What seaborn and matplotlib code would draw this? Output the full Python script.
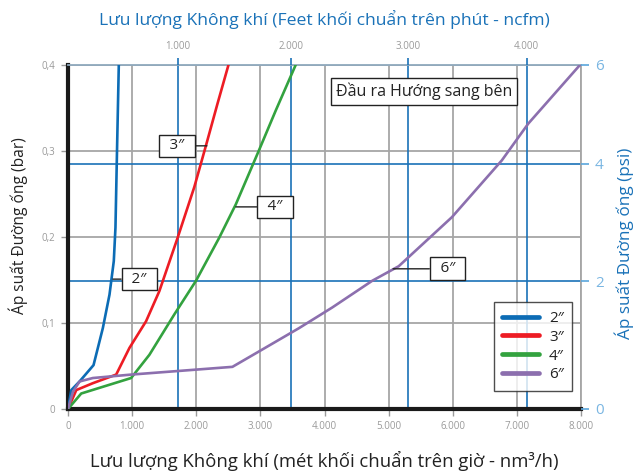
import numpy as np
import pandas as pd
import matplotlib
matplotlib.use("Agg")
import matplotlib.pyplot as plt
import seaborn as sns

# values (x: nm3/h, y: bar)
flow_2 = [0, 51, 180, 398, 543, 647, 714, 740, 761, 792]
bar_2 = [0, 0.022, 0.032, 0.051, 0.094, 0.133, 0.172, 0.211, 0.289, 0.4]

flow_3 = [0, 129, 387, 751, 958, 1217, 1424, 1709, 1969, 2150, 2331, 2502]
bar_3 = [0, 0.022, 0.030, 0.040, 0.071, 0.102, 0.137, 0.199, 0.258, 0.306, 0.355, 0.4]

flow_4 = [0, 206, 984, 1269, 1658, 1995, 2357, 2617, 2979, 3239, 3550]
bar_4 = [0, 0.018, 0.036, 0.063, 0.110, 0.149, 0.199, 0.238, 0.301, 0.347, 0.4]

flow_6 = [0, 77, 180, 387, 984, 2564, 2980, 3602, 4120, 4742, 5157, 5986, 6764, 7179, 7983]
bar_6 = [0, 0.020, 0.032, 0.036, 0.040, 0.049, 0.067, 0.094, 0.118, 0.149, 0.166, 0.223, 0.289, 0.332, 0.4]

sizes = ["2″", "3″", "4″", "6″"]
colors = ["#0c6cb5", "#ed1c24", "#33a23f", "#8c6fae"]

# secondary scales (ncfm on top, psi on right) placed on the primary axes
ncfm_pos = [1710, 3480, 5300, 7150]
ncfm_labels = ["1.000", "2.000", "3.000", "4.000"]
psi_pos = [0, 0.1485, 0.285, 0.4]
psi_labels = ["0", "2", "4", "6"]

x_ticks = [0, 1000, 2000, 3000, 4000, 5000, 6000, 7000, 8000]
x_labels = ["0", "1.000", "2.000", "3.000", "4.000", "5.000", "6.000", "7.000", "8.000"]
y_ticks = [0, 0.1, 0.2, 0.3, 0.4]
y_labels = ["0", "0,1", "0,2", "0,3", "0,4"]

# label boxes: (text, box x, box y, curve x)
tags = [("2″", 1113, 0.151, 699), ("3″", 1700, 0.306, 2166),
        ("4″", 3229, 0.235, 2617), ("6″", 5919, 0.163, 5069)]

sns.set_style("white")
plt.rcParams['font.family'] = ['Open Sans', 'DejaVu Sans']

df = pd.concat([
    pd.DataFrame({"flow": f, "bar": b, "size": s})
    for f, b, s in zip([flow_2, flow_3, flow_4, flow_6], [bar_2, bar_3, bar_4, bar_6], sizes)
])

fig = plt.figure(figsize=(6.38, 4.72), dpi=100)
ax = fig.add_axes([0.1066, 0.1335, 0.8041, 0.7288])

blue = "#1a72b8"
grid_c = "#a6a6a6"

for v in x_ticks[1:]:
    ax.axvline(v, color=grid_c, lw=1.3, zorder=0)
for v in y_ticks[1:]:
    ax.axhline(v, color=grid_c, lw=1.3, zorder=0)
for v in ncfm_pos:
    ax.axvline(v, color=blue, lw=1.2, zorder=0.5)
for v in psi_pos[1:3]:
    ax.axhline(v, color=blue, lw=1.2, zorder=0.5)

sns.lineplot(data=df, x="flow", y="bar", hue="size", palette=colors, sort=False,
             estimator=None, lw=1.9, ax=ax, zorder=3)

ax.set_xlim(0, 8000)
ax.set_ylim(0, 0.4)
ax.set_xticks(x_ticks)
ax.set_xticklabels(x_labels)
ax.set_yticks(y_ticks)
ax.set_yticklabels(y_labels)
ax.tick_params(axis="both", colors="#9a9a9a", labelsize=7, length=5, width=1, direction="out", pad=4)
ax.set_xlabel("Lưu lượng Không khí (mét khối chuẩn trên giờ - nm³/h)", fontsize=13.3, color="#222222", labelpad=13)
ax.set_ylabel("Áp suất Đường ống (bar)", fontsize=11.2, color="#222222")
ax.yaxis.set_label_coords(-0.078, 0.532)

ax.spines["left"].set_color("#1a1a1a")
ax.spines["left"].set_linewidth(3)
ax.spines["bottom"].set_color("#1a1a1a")
ax.spines["bottom"].set_linewidth(3)
ax.spines["right"].set_color(grid_c)
ax.spines["right"].set_linewidth(1.3)
ax.spines["top"].set_color("#8fa9bd")
ax.spines["top"].set_linewidth(1.3)

# top axis in ncfm
axt = ax.twiny()
axt.set_xlim(ax.get_xlim())
axt.set_xticks(ncfm_pos)
axt.set_xticklabels(ncfm_labels)
axt.tick_params(axis="x", colors=blue, labelcolor="#9a9a9a", labelsize=7, length=5, width=1.2, pad=4)
axt.set_xlabel("Lưu lượng Không khí (Feet khối chuẩn trên phút - ncfm)", fontsize=12.6, color=blue, labelpad=12)
for s in axt.spines.values():
    s.set_visible(False)

# right axis in psi
axr = ax.twinx()
axr.set_ylim(ax.get_ylim())
axr.set_yticks(psi_pos)
axr.set_yticklabels(psi_labels)
axr.tick_params(axis="y", colors="#5aa6dc", labelcolor="#7ab6e2", labelsize=11, length=6, width=1.2, pad=4)
axr.set_ylabel("Áp suất Đường ống (psi)", fontsize=12.3, color=blue)
axr.yaxis.set_label_coords(1.066, 0.483)
for s in axr.spines.values():
    s.set_visible(False)

box = dict(boxstyle="square,pad=0.25", fc="white", ec="#222222", lw=1)
for text, bx, by, cx in tags:
    ax.annotate(" \u2009" + text + "\u2009 ", xy=(cx, by), xytext=(bx, by), fontsize=11, color="#222222",
                ha="center", va="center", bbox=box,
                arrowprops=dict(arrowstyle="-", color="#222222", lw=1, shrinkA=0, shrinkB=0),
                zorder=5)

ax.text(5551, 0.369, "Đầu ra Hướng sang bên", fontsize=11.5, color="#222222",
        ha="center", va="center", bbox=dict(boxstyle="square,pad=0.28", fc="white", ec="#222222", lw=1),
        zorder=5)

leg = ax.legend(loc="lower right", bbox_to_anchor=(0.983, 0.053), borderaxespad=0, fontsize=11,
                frameon=True, fancybox=False, edgecolor="#222222", handlelength=2.4, borderpad=0.55,
                labelspacing=0.25, handletextpad=0.65, title=None)
leg.get_frame().set_linewidth(1)
leg.set_zorder(6)
for h in leg.get_lines():
    h.set_linewidth(3.4)
for t in leg.get_texts():
    t.set_color("#222222")

fig.savefig("out.png", dpi=100)
